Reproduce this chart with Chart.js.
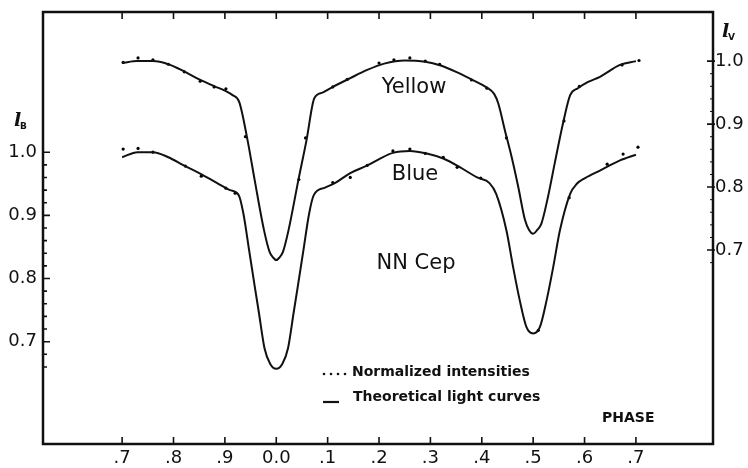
<!DOCTYPE html>
<html>
<head>
<meta charset="utf-8">
<script src="https://cdn.jsdelivr.net/npm/chart.js@4.4.1/dist/chart.umd.min.js"></script>
<style>
  html, body { margin: 0; padding: 0; background: #fff; }
  #wrap { width: 748px; height: 468px; }
</style>
</head>
<body>
<div id="wrap"><canvas id="lc" width="748" height="468"></canvas></div>
<script>
// NN Cep - light curves (phase vs normalized intensity)

// tick positions
const xTicks = [-0.3, -0.2, -0.1, 0.0, 0.1, 0.2, 0.3, 0.4, 0.5, 0.6, 0.7];
const bTicks = [0.7, 0.8, 0.9, 1.0];
const vTicks = [0.7, 0.8, 0.9, 1.0];
const bMinor = [0.66, 0.68, 0.72, 0.74, 0.76, 0.78, 0.82, 0.84, 0.86, 0.88, 0.92, 0.94, 0.96, 0.98];
const vMinor = [0.68, 0.72, 0.74, 0.76, 0.78, 0.82, 0.84, 0.86, 0.88, 0.92, 0.94, 0.96, 0.98];

// theoretical curve, yellow (right axis I_V)
const yellowPhase = [-0.30, -0.27, -0.24, -0.21, -0.18, -0.15, -0.12, -0.10, -0.085, -0.072,
  -0.056, -0.042, -0.024, -0.013, -0.006, 0.0, 0.006, 0.013, 0.024, 0.043,
  0.059, 0.074, 0.09, 0.11, 0.144, 0.177, 0.21, 0.25, 0.29, 0.32,
  0.35, 0.38, 0.41, 0.424, 0.432, 0.445, 0.458, 0.471, 0.484, 0.492,
  0.50, 0.508, 0.516, 0.529, 0.542, 0.558, 0.572, 0.587, 0.607, 0.63,
  0.669, 0.70];
const yellowFit = [0.997, 1.000, 1.000, 0.995, 0.984, 0.971, 0.960, 0.953, 0.946, 0.935,
  0.875, 0.811, 0.732, 0.697, 0.688, 0.684, 0.688, 0.697, 0.732, 0.811,
  0.875, 0.941, 0.950, 0.959, 0.973, 0.986, 0.996, 1.001, 0.999, 0.993,
  0.983, 0.971, 0.958, 0.948, 0.933, 0.890, 0.848, 0.800, 0.748, 0.732,
  0.726, 0.732, 0.742, 0.785, 0.838, 0.901, 0.946, 0.957, 0.967, 0.975,
  0.994, 1.000];

// theoretical curve, blue (left axis I_B)
const bluePhase = [-0.30, -0.27, -0.24, -0.21, -0.18, -0.15, -0.115, -0.09, -0.073, -0.064,
  -0.0525, -0.042, -0.034, -0.023, -0.012, 0.0, 0.012, 0.023, 0.034, 0.042,
  0.0525, 0.064, 0.073, 0.095, 0.114, 0.144, 0.177, 0.202, 0.227, 0.26,
  0.293, 0.325, 0.358, 0.391, 0.415, 0.428, 0.448, 0.461, 0.474, 0.487,
  0.50, 0.513, 0.526, 0.539, 0.552, 0.572, 0.585, 0.601, 0.63, 0.669,
  0.70];
const blueFit = [0.992, 1.000, 1.000, 0.992, 0.979, 0.967, 0.951, 0.940, 0.932, 0.903,
  0.843, 0.788, 0.747, 0.690, 0.665, 0.657, 0.665, 0.690, 0.747, 0.788,
  0.843, 0.903, 0.932, 0.944, 0.951, 0.967, 0.979, 0.990, 0.999, 1.002,
  0.998, 0.990, 0.976, 0.960, 0.951, 0.934, 0.876, 0.818, 0.765, 0.723,
  0.713, 0.723, 0.765, 0.818, 0.876, 0.934, 0.950, 0.959, 0.971, 0.987,
  0.996];

// normalized intensities (observed points)
const yellowObsPhase = [-0.298, -0.269, -0.24, -0.21, -0.179, -0.148, -0.121, -0.098, -0.06, 0.044,
  0.057, 0.11, 0.138, 0.2, 0.229, 0.26, 0.29, 0.318, 0.38, 0.41,
  0.448, 0.56, 0.59, 0.673, 0.706];
const yellowObs = [0.998, 1.005, 1.002, 0.995, 0.983, 0.968, 0.959, 0.956, 0.88, 0.812,
  0.878, 0.959, 0.971, 0.997, 1.002, 1.005, 1.0, 0.995, 0.970, 0.957,
  0.878, 0.905, 0.960, 0.994, 1.001];
const blueObsPhase = [-0.298, -0.269, -0.24, -0.177, -0.146, -0.098, -0.08, 0.11, 0.144, 0.177,
  0.227, 0.26, 0.29, 0.325, 0.352, 0.398, 0.51, 0.57, 0.644, 0.675,
  0.704];
const blueObs = [1.005, 1.006, 1.000, 0.978, 0.962, 0.943, 0.935, 0.952, 0.960, 0.979,
  1.002, 1.005, 0.998, 0.992, 0.976, 0.959, 0.718, 0.928, 0.981, 0.997,
  1.008];

function pts(xs, ys) {
    return xs.map((x, i) => ({ x: x, y: ys[i] }));
}

function phaseLabel(v) {
    const r = Math.round(v * 10) / 10;
    if (Math.abs(r) < 0.001) return '0.0';
    const d = r < 0 ? Math.round((1 + r) * 10) : Math.round(r * 10);
    return '.' + d;
}

const tickFont = { family: '"DejaVu Sans"', size: 18 };

// no auto padding from tick labels, keep the frame where the original has it
function noPad(s) {
    s.paddingTop = 0;
    s.paddingBottom = 0;
    s.paddingLeft = 0;
    s.paddingRight = 0;
}

// frame, inward ticks and annotations
const decor = {
    id: 'decor',
    afterDraw(chart) {
        const ctx = chart.ctx;
        const a = chart.chartArea;
        const sx = chart.scales.x, sb = chart.scales.yB, sv = chart.scales.yV;
        ctx.save();
        ctx.strokeStyle = '#111';
        ctx.lineWidth = 2.5;
        ctx.strokeRect(a.left, a.top, a.right - a.left, a.bottom - a.top);

        ctx.lineWidth = 1.6;
        ctx.beginPath();
        xTicks.forEach(v => {
            const px = sx.getPixelForValue(v);
            ctx.moveTo(px, a.bottom); ctx.lineTo(px, a.bottom - 7);
            ctx.moveTo(px, a.top); ctx.lineTo(px, a.top + 7);
        });
        bTicks.forEach(v => {
            const py = sb.getPixelForValue(v);
            ctx.moveTo(a.left, py); ctx.lineTo(a.left + 7, py);
        });
        bMinor.forEach(v => {
            const py = sb.getPixelForValue(v);
            ctx.moveTo(a.left, py); ctx.lineTo(a.left + 4, py);
        });
        vTicks.forEach(v => {
            const py = sv.getPixelForValue(v);
            ctx.moveTo(a.right + 2, py); ctx.lineTo(a.right - 6, py);
        });
        ctx.stroke();
        ctx.lineWidth = 1;
        ctx.beginPath();
        vMinor.forEach(v => {
            const py = sv.getPixelForValue(v);
            ctx.moveTo(a.right, py); ctx.lineTo(a.right - 3, py);
        });
        ctx.stroke();

        ctx.fillStyle = '#111';
        ctx.textAlign = 'center';
        ctx.textBaseline = 'middle';
        ctx.font = '21px "DejaVu Sans"';
        ctx.fillText('Yellow', 414, 88);
        ctx.fillText('Blue', 415, 175);
        ctx.fillText('NN Cep', 416, 264);

        // axis titles
        ctx.textAlign = 'left';
        ctx.textBaseline = 'alphabetic';
        ctx.font = 'italic bold 19px "DejaVu Serif"';
        ctx.fillText('l', 14, 126);
        ctx.fillText('l', 722, 37);
        ctx.font = 'bold 9px "DejaVu Sans"';
        ctx.fillText('B', 20, 129);
        ctx.fillText('V', 728, 40);

        // legend
        ctx.font = 'bold 14px "DejaVu Sans"';
        ctx.textBaseline = 'middle';
        ctx.fillText('Normalized intensities', 352, 372);
        ctx.fillText('Theoretical light curves', 353, 397);
        ctx.fillText('PHASE', 602, 418);
        [324, 331, 338, 345].forEach(px => {
            ctx.beginPath();
            ctx.arc(px, 374, 1.3, 0, Math.PI * 2);
            ctx.fill();
        });
        ctx.lineWidth = 2.2;
        ctx.beginPath();
        ctx.moveTo(323, 402); ctx.lineTo(339, 402);
        ctx.stroke();
        ctx.restore();
    }
};

const fitStyle = {
    borderColor: '#111',
    borderWidth: 2,
    pointRadius: 0,
    fill: false,
    cubicInterpolationMode: 'monotone'
};
const obsStyle = {
    showLine: false,
    pointRadius: 1.6,
    pointBorderWidth: 0,
    pointBackgroundColor: '#000',
    borderColor: '#000'
};

new Chart(document.getElementById('lc'), {
    type: 'line',
    data: {
        datasets: [
            Object.assign({ label: 'Yellow', data: pts(yellowPhase, yellowFit), yAxisID: 'yV' }, fitStyle),
            Object.assign({ label: 'Blue', data: pts(bluePhase, blueFit), yAxisID: 'yB' }, fitStyle),
            Object.assign({ label: 'Yellow obs', data: pts(yellowObsPhase, yellowObs), yAxisID: 'yV' }, obsStyle),
            Object.assign({ label: 'Blue obs', data: pts(blueObsPhase, blueObs), yAxisID: 'yB' }, obsStyle)
        ]
    },
    options: {
        responsive: false,
        animation: false,
        layout: { padding: { top: 12, left: 0, right: 0, bottom: 0 } },
        plugins: { legend: { display: false }, tooltip: { enabled: false } },
        scales: {
            x: {
                type: 'linear',
                min: -0.454,
                max: 0.85,
                afterBuildTicks: s => { s.ticks = xTicks.map(v => ({ value: v })); },
                afterFit: s => { s.height = 24; noPad(s); },
                grid: { display: false, drawTicks: false },
                border: { display: false },
                ticks: {
                    callback: v => phaseLabel(v),
                    font: tickFont,
                    color: '#111',
                    padding: 4,
                    maxRotation: 0,
                    autoSkip: false
                }
            },
            yB: {
                position: 'left',
                min: 0.538,
                max: 1.222,
                afterBuildTicks: s => { s.ticks = bTicks.map(v => ({ value: v })); },
                afterFit: s => { s.width = 43; noPad(s); },
                grid: { display: false, drawTicks: false },
                border: { display: false },
                ticks: { callback: v => v.toFixed(1), font: tickFont, color: '#111', padding: 6 }
            },
            yV: {
                position: 'right',
                min: 0.392,
                max: 1.078,
                afterBuildTicks: s => { s.ticks = vTicks.map(v => ({ value: v })); },
                afterFit: s => { s.width = 35; noPad(s); },
                grid: { display: false, drawTicks: false },
                border: { display: false },
                ticks: { callback: v => v.toFixed(1), font: tickFont, color: '#111', padding: 2 }
            }
        }
    },
    plugins: [decor]
});
</script>
</body>
</html>
